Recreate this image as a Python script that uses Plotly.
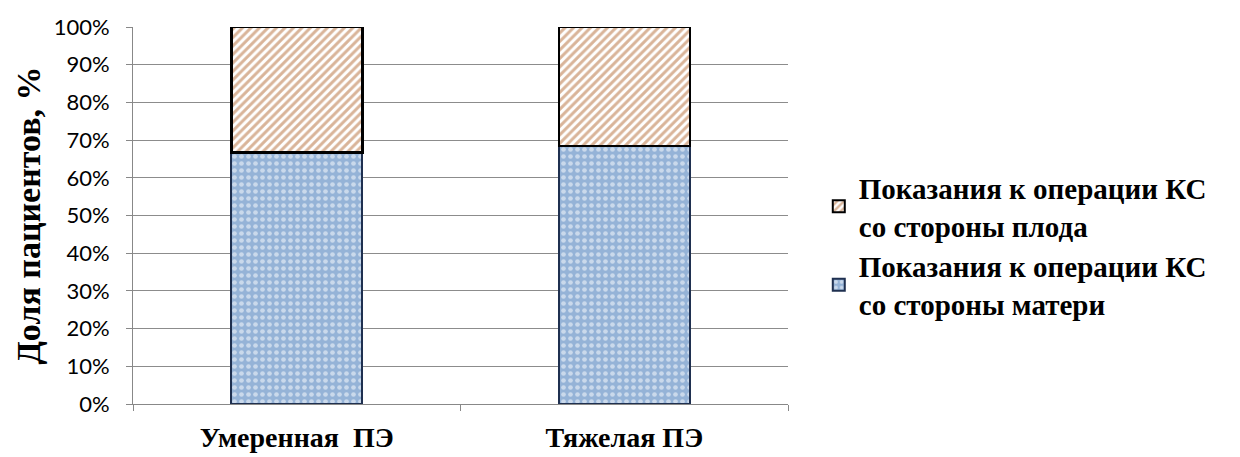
import plotly.graph_objects as go

categories = ["Умеренная  ПЭ", "Тяжелая ПЭ"]
mother_share = [66.7, 68.4]
fetus_share = [33.3, 31.6]
series_names = [
    "Показания к операции КС<br>со стороны матери",
    "Показания к операции КС<br>со стороны плода",
]
y_ticks = list(range(0, 101, 10))
y_tick_labels = [f"{v}%" for v in y_ticks]

SERIF = "Times New Roman, Liberation Serif, serif"

fig = go.Figure()
fig.add_trace(go.Bar(
    x=categories, y=mother_share, name=series_names[0],
    marker=dict(
        color="#95b3d7",
        line=dict(color="#1f3050", width=2),
        pattern=dict(shape=".", fgcolor="#ffffff", bgcolor="#95b3d7",
                     size=7, solidity=0.35, fillmode="overlay"),
    ),
))
fig.add_trace(go.Bar(
    x=categories, y=fetus_share, name=series_names[1],
    marker=dict(
        color="#ffffff",
        line=dict(color="#000000", width=2.5),
        pattern=dict(shape="/", fgcolor="#b36a33", bgcolor="#ffffff",
                     size=6, solidity=0.5, fillmode="overlay"),
    ),
))

fig.update_layout(
    barmode="stack",
    bargap=0.6,
    width=1240, height=457,
    margin=dict(l=133, r=452, t=27, b=53),
    plot_bgcolor="#ffffff",
    paper_bgcolor="#ffffff",
    showlegend=True,
    legend=dict(
        traceorder="reversed",
        x=1.047, y=0.42, xanchor="left", yanchor="middle",
        font=dict(family=SERIF, size=29, color="#000000", weight="bold"),
        itemsizing="constant",
        tracegroupgap=4,
    ),
    xaxis=dict(
        automargin=False,
        showgrid=False,
        showline=True, linecolor="#888888", linewidth=1,
        ticks="outside", tickson="boundaries", ticklen=6, tickcolor="#888888",
        tickfont=dict(family=SERIF, size=28, color="#000000", weight="bold"),
        ticklabelstandoff=8,
    ),
    yaxis=dict(
        automargin=False,
        range=[0, 100],
        tickvals=y_ticks, ticktext=y_tick_labels,
        showgrid=True, gridcolor="#8c8c8c", gridwidth=1,
        showline=True, linecolor="#888888", linewidth=1,
        ticks="outside", ticklen=6, tickcolor="#888888",
        tickfont=dict(family="Lato", size=22, color="#000000"),
        ticklabelstandoff=12,
        zeroline=False,
        title=dict(text="Доля пациентов, %",
                   font=dict(family=SERIF, size=34, color="#000000", weight="bold"),
                   standoff=2),
    ),
)

fig.write_html("out.html")
